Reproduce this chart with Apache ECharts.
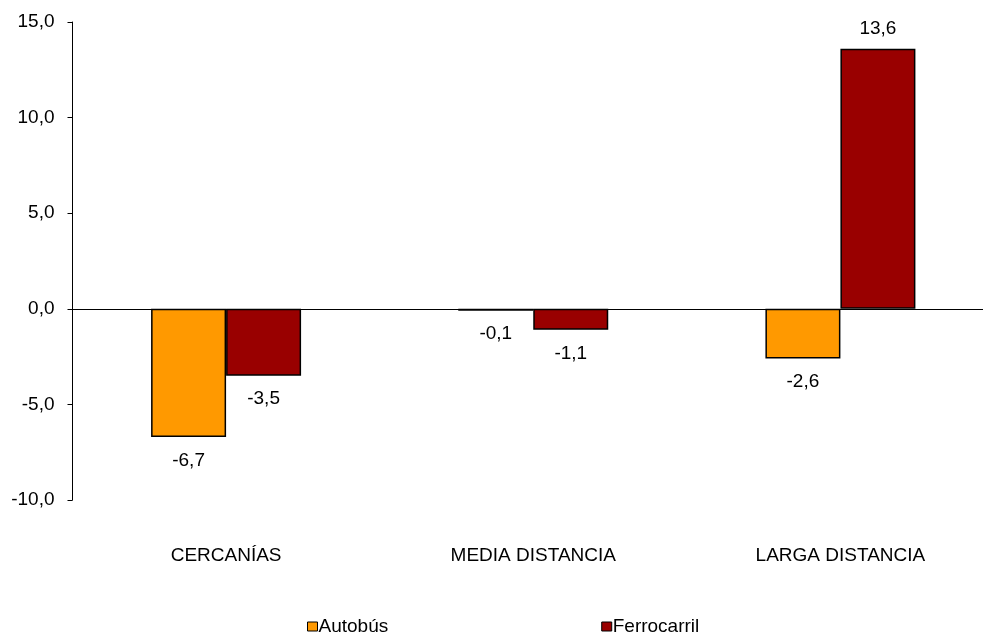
<!DOCTYPE html>
<html>
<head>
<meta charset="utf-8">
<script src="https://cdn.jsdelivr.net/npm/echarts@6/dist/echarts.min.js"></script>
<style>html,body{margin:0;padding:0;background:#fff;overflow:hidden;width:983px;height:633px}#c{width:994px;height:633px}</style>
</head>
<body>
<div id="c"></div>
<script>
const categories = ['CERCANÍAS', 'MEDIA DISTANCIA', 'LARGA DISTANCIA'];
const seriesNames = ['Autobús', 'Ferrocarril'];
const autobus = [-6.7, -0.1, -2.6];
const ferrocarril = [-3.5, -1.1, 13.6];
const colors = ['#FF9900', '#990000'];
const yTicks = { min: -10, max: 15, interval: 5 };

const fmt = v => v.toFixed(1).replace('.', ',');
const FONT = 'Liberation Sans, Arial, sans-serif';
const FS = 19;

function toData(arr) {
  return arr.map(v => ({
    value: v,
    label: { position: v < 0 ? 'bottom' : 'top', distance: v < 0 ? 14 : 11 }
  }));
}

const chart = echarts.init(document.getElementById('c'));
chart.setOption({
  animation: false,
  grid: { left: 72.5, right: 0, top: 22, height: 478, containLabel: false },
  legend: {
    left: 307, top: 617, padding: 0,
    icon: 'rect', itemWidth: 10, itemHeight: 9, itemGap: 213,
    textStyle: { fontFamily: FONT, fontSize: FS, color: '#000', padding: [0, 0, 0, -4] },
    itemStyle: { borderColor: '#000', borderWidth: 1 },
    data: seriesNames
  },
  xAxis: {
    type: 'category',
    data: categories,
    axisLine: { show: false },
    axisTick: { show: false },
    axisLabel: { margin: 46, fontFamily: FONT, fontSize: FS, color: '#000' }
  },
  yAxis: {
    type: 'value',
    min: yTicks.min, max: yTicks.max, interval: yTicks.interval,
    axisLine: { show: true, lineStyle: { color: '#000', width: 1 } },
    axisTick: { show: true, length: 5, lineStyle: { color: '#000' } },
    splitLine: { show: false },
    axisLabel: { margin: 18, fontFamily: FONT, fontSize: FS, color: '#000', formatter: v => fmt(v) }
  },
  series: [
    {
      name: seriesNames[0], type: 'bar', data: toData(autobus),
      barWidth: 75, barGap: '0%',
      itemStyle: { color: colors[0], borderColor: '#000', borderWidth: 1.5 },
      label: { show: true, fontFamily: FONT, fontSize: FS, color: '#000', formatter: p => fmt(p.value) },
      markLine: {
        silent: true, symbol: 'none', label: { show: false },
        lineStyle: { color: '#000', width: 1, type: 'solid' },
        data: [{ yAxis: 0 }]
      }
    },
    {
      name: seriesNames[1], type: 'bar', data: toData(ferrocarril),
      barWidth: 75,
      itemStyle: { color: colors[1], borderColor: '#000', borderWidth: 1.5 },
      label: { show: true, fontFamily: FONT, fontSize: FS, color: '#000', formatter: p => fmt(p.value) }
    }
  ]
});
</script>
</body>
</html>
